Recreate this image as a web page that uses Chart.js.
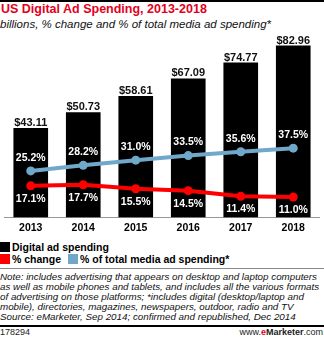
<!DOCTYPE html>
<html>
<head>
<meta charset="utf-8">
<script src="https://cdn.jsdelivr.net/npm/chart.js@4/dist/chart.umd.min.js"></script>
<style>
  html,body{margin:0;padding:0;background:#fff;}
  body{width:324px;height:337px;position:relative;overflow:hidden;font-family:"Liberation Sans",Arial,sans-serif;}
  .abs{position:absolute;white-space:nowrap;}
  #topbar{left:0;top:0;width:324px;height:2px;background:#000;}
  #title{left:1px;top:2px;font-size:12.5px;font-weight:bold;color:#e3001b;line-height:15px;}
  #subtitle{left:0;top:17px;font-size:11.5px;font-style:italic;color:#111;line-height:14px;}
  #chartwrap{left:0;top:0;width:324px;height:240px;}
  .leg{font-size:10.5px;font-weight:bold;color:#000;line-height:12px;}
  .sw{position:absolute;width:10px;height:10px;}
  #sep{left:0;top:268px;width:324px;height:1px;background:#888;}
  #notes{left:0;top:272px;font-size:9.8px;font-style:italic;color:#111;line-height:10px;}
  #botbar{left:0;top:325px;width:324px;height:2px;background:#000;}
  #id{left:0;top:327px;font-size:9px;color:#222;line-height:10px;}
  #site{right:1px;top:327px;font-size:9px;color:#222;line-height:10px;}
</style>
</head>
<body>
<div id="topbar" class="abs"></div>
<div id="title" class="abs">US Digital Ad Spending, 2013-2018</div>
<div id="subtitle" class="abs">billions, % change and % of total media ad spending*</div>
<div id="chartwrap" class="abs"><canvas id="c" width="324" height="240"></canvas></div>

<div class="sw" style="left:0;top:242px;background:#000;"></div>
<div class="abs leg" style="left:12px;top:241px;">Digital ad spending</div>
<div class="sw" style="left:0;top:254px;background:#ff0000;"></div>
<div class="abs leg" style="left:12px;top:253px;">% change</div>
<div class="sw" style="left:68px;top:254px;background:#6fa8c8;"></div>
<div class="abs leg" style="left:80px;top:253px;">% of total media ad spending*</div>

<div id="sep" class="abs"></div>
<div id="notes" class="abs">Note: includes advertising that appears on desktop and laptop computers<br>as well as mobile phones and tablets, and includes all the various formats<br>of advertising on those platforms; *includes digital (desktop/laptop and<br>mobile), directories, magazines, newspapers, outdoor, radio and TV<br>Source: eMarketer, Sep 2014; confirmed and republished, Dec 2014</div>
<div id="botbar" class="abs"></div>
<div id="id" class="abs">178294</div>
<div id="site" class="abs">www.<b style="color:#e3001b">e</b><b>Marketer</b>.com</div>

<script>
const categories = ["2013", "2014", "2015", "2016", "2017", "2018"];
const adSpending = [43.11, 50.73, 58.61, 67.09, 74.77, 82.96];
const pctChange = [17.1, 17.7, 15.5, 14.5, 11.4, 11.0];
const pctOfTotal = [25.2, 28.2, 31.0, 33.5, 35.6, 37.5];

const labelPlugin = {
  id: 'valueLabels',
  afterDatasetsDraw(chart) {
    const ctx = chart.ctx;
    ctx.save();
    ctx.textAlign = 'center';
    const barMeta = chart.getDatasetMeta(0);
    ctx.font = 'bold 11px "Liberation Sans", Arial, sans-serif';
    ctx.fillStyle = '#111';
    ctx.textBaseline = 'alphabetic';
    barMeta.data.forEach((el, i) => {
      ctx.fillText('$' + adSpending[i].toFixed(2), el.x, el.y - 2);
    });
    ctx.font = 'bold 10.5px "Liberation Sans", Arial, sans-serif';
    ctx.fillStyle = '#fff';
    ctx.textBaseline = 'middle';
    const blueMeta = chart.getDatasetMeta(2);
    blueMeta.data.forEach((el, i) => {
      ctx.fillText(pctOfTotal[i].toFixed(1) + '%', el.x, el.y - 13);
    });
    const redMeta = chart.getDatasetMeta(1);
    redMeta.data.forEach((el, i) => {
      ctx.fillText(pctChange[i].toFixed(1) + '%', el.x, el.y + 13);
    });
    ctx.restore();
  }
};

new Chart(document.getElementById('c'), {
  data: {
    labels: categories,
    datasets: [
      {
        type: 'bar', label: 'Digital ad spending', data: adSpending,
        backgroundColor: '#000', yAxisID: 'y', order: 3,
        categoryPercentage: 1.0, barPercentage: 0.66
      },
      {
        type: 'line', label: '% change', data: pctChange,
        borderColor: '#ff0000', backgroundColor: '#ff0000', borderWidth: 4,
        pointRadius: 4.5, pointHoverRadius: 4.5, pointBorderWidth: 0,
        yAxisID: 'y2', order: 1, tension: 0
      },
      {
        type: 'line', label: '% of total media ad spending*', data: pctOfTotal,
        borderColor: '#6fa8c8', backgroundColor: '#6fa8c8', borderWidth: 4,
        pointRadius: 4.5, pointHoverRadius: 4.5, pointBorderWidth: 0,
        yAxisID: 'y2', order: 2, tension: 0
      }
    ]
  },
  options: {
    responsive: false,
    animation: false,
    layout: { padding: { top: 31, left: -2, right: -2, bottom: 2 } },
    plugins: { legend: { display: false }, tooltip: { enabled: false } },
    scales: {
      x: {
        grid: { display: false, drawTicks: false },
        border: { display: true, color: '#999', width: 1 },
        ticks: { color: '#000', padding: 4, font: { family: '"Liberation Sans", Arial, sans-serif', size: 10.5, weight: 'bold' } }
      },
      y: { display: false, min: 0, max: 90 },
      y2: { display: false, min: 0, max: 101 }
    }
  },
  plugins: [labelPlugin]
});
</script>
</body>
</html>
